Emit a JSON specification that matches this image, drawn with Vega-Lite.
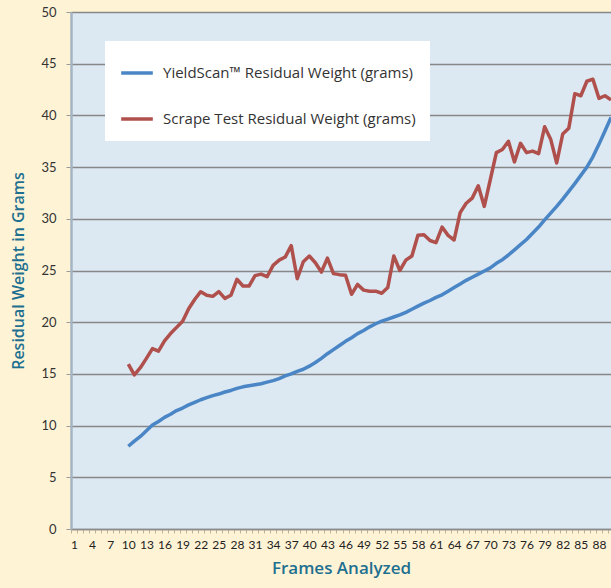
{
  "$schema": "https://vega.github.io/schema/vega-lite/v6.json",
  "width": 540,
  "height": 517,
  "autosize": {"type": "none"},
  "padding": {"left": 71, "top": 12, "right": 0, "bottom": 59},
  "background": "#FFF3D6",
  "view": {"fill": "#DCE9F3", "stroke": null},
  "data": {"values": [
    {"frame":10,"series":"Y","value":8.0},{"frame":11,"series":"Y","value":8.5},{"frame":12,"series":"Y","value":8.95},{"frame":13,"series":"Y","value":9.5},{"frame":14,"series":"Y","value":10.05},{"frame":15,"series":"Y","value":10.4},{"frame":16,"series":"Y","value":10.8},{"frame":17,"series":"Y","value":11.1},{"frame":18,"series":"Y","value":11.45},{"frame":19,"series":"Y","value":11.7},
    {"frame":20,"series":"Y","value":12.0},{"frame":21,"series":"Y","value":12.25},{"frame":22,"series":"Y","value":12.5},{"frame":23,"series":"Y","value":12.7},{"frame":24,"series":"Y","value":12.9},{"frame":25,"series":"Y","value":13.05},{"frame":26,"series":"Y","value":13.25},{"frame":27,"series":"Y","value":13.4},{"frame":28,"series":"Y","value":13.6},{"frame":29,"series":"Y","value":13.75},
    {"frame":30,"series":"Y","value":13.85},{"frame":31,"series":"Y","value":13.95},{"frame":32,"series":"Y","value":14.05},{"frame":33,"series":"Y","value":14.2},{"frame":34,"series":"Y","value":14.35},{"frame":35,"series":"Y","value":14.55},{"frame":36,"series":"Y","value":14.8},{"frame":37,"series":"Y","value":15.0},{"frame":38,"series":"Y","value":15.25},{"frame":39,"series":"Y","value":15.45},
    {"frame":40,"series":"Y","value":15.75},{"frame":41,"series":"Y","value":16.1},{"frame":42,"series":"Y","value":16.5},{"frame":43,"series":"Y","value":16.95},{"frame":44,"series":"Y","value":17.35},{"frame":45,"series":"Y","value":17.75},{"frame":46,"series":"Y","value":18.15},{"frame":47,"series":"Y","value":18.5},{"frame":48,"series":"Y","value":18.9},{"frame":49,"series":"Y","value":19.2},
    {"frame":50,"series":"Y","value":19.55},{"frame":51,"series":"Y","value":19.85},{"frame":52,"series":"Y","value":20.1},{"frame":53,"series":"Y","value":20.3},{"frame":54,"series":"Y","value":20.5},{"frame":55,"series":"Y","value":20.7},{"frame":56,"series":"Y","value":20.95},{"frame":57,"series":"Y","value":21.25},{"frame":58,"series":"Y","value":21.55},{"frame":59,"series":"Y","value":21.85},
    {"frame":60,"series":"Y","value":22.1},{"frame":61,"series":"Y","value":22.4},{"frame":62,"series":"Y","value":22.65},{"frame":63,"series":"Y","value":23.0},{"frame":64,"series":"Y","value":23.35},{"frame":65,"series":"Y","value":23.7},{"frame":66,"series":"Y","value":24.05},{"frame":67,"series":"Y","value":24.35},{"frame":68,"series":"Y","value":24.65},{"frame":69,"series":"Y","value":24.95},
    {"frame":70,"series":"Y","value":25.25},{"frame":71,"series":"Y","value":25.7},{"frame":72,"series":"Y","value":26.05},{"frame":73,"series":"Y","value":26.5},{"frame":74,"series":"Y","value":27.0},{"frame":75,"series":"Y","value":27.5},{"frame":76,"series":"Y","value":28.0},{"frame":77,"series":"Y","value":28.6},{"frame":78,"series":"Y","value":29.2},{"frame":79,"series":"Y","value":29.9},
    {"frame":80,"series":"Y","value":30.55},{"frame":81,"series":"Y","value":31.2},{"frame":82,"series":"Y","value":31.9},{"frame":83,"series":"Y","value":32.65},{"frame":84,"series":"Y","value":33.4},{"frame":85,"series":"Y","value":34.2},{"frame":86,"series":"Y","value":35.0},{"frame":87,"series":"Y","value":36.0},{"frame":88,"series":"Y","value":37.2},{"frame":89,"series":"Y","value":38.5},{"frame":90,"series":"Y","value":39.8},
    {"frame":10,"series":"S","value":15.95},{"frame":11,"series":"S","value":14.9},{"frame":12,"series":"S","value":15.6},{"frame":13,"series":"S","value":16.5},{"frame":14,"series":"S","value":17.45},{"frame":15,"series":"S","value":17.2},{"frame":16,"series":"S","value":18.2},{"frame":17,"series":"S","value":18.9},{"frame":18,"series":"S","value":19.5},{"frame":19,"series":"S","value":20.1},
    {"frame":20,"series":"S","value":21.3},{"frame":21,"series":"S","value":22.2},{"frame":22,"series":"S","value":22.95},{"frame":23,"series":"S","value":22.6},{"frame":24,"series":"S","value":22.5},{"frame":25,"series":"S","value":22.95},{"frame":26,"series":"S","value":22.3},{"frame":27,"series":"S","value":22.6},{"frame":28,"series":"S","value":24.15},{"frame":29,"series":"S","value":23.5},
    {"frame":30,"series":"S","value":23.5},{"frame":31,"series":"S","value":24.5},{"frame":32,"series":"S","value":24.65},{"frame":33,"series":"S","value":24.4},{"frame":34,"series":"S","value":25.5},{"frame":35,"series":"S","value":26.0},{"frame":36,"series":"S","value":26.3},{"frame":37,"series":"S","value":27.4},{"frame":38,"series":"S","value":24.2},{"frame":39,"series":"S","value":25.85},
    {"frame":40,"series":"S","value":26.4},{"frame":41,"series":"S","value":25.75},{"frame":42,"series":"S","value":24.85},{"frame":43,"series":"S","value":26.2},{"frame":44,"series":"S","value":24.7},{"frame":45,"series":"S","value":24.6},{"frame":46,"series":"S","value":24.55},{"frame":47,"series":"S","value":22.7},{"frame":48,"series":"S","value":23.65},{"frame":49,"series":"S","value":23.1},
    {"frame":50,"series":"S","value":23.0},{"frame":51,"series":"S","value":23.0},{"frame":52,"series":"S","value":22.8},{"frame":53,"series":"S","value":23.35},{"frame":54,"series":"S","value":26.4},{"frame":55,"series":"S","value":25.0},{"frame":56,"series":"S","value":26.0},{"frame":57,"series":"S","value":26.4},{"frame":58,"series":"S","value":28.4},{"frame":59,"series":"S","value":28.45},
    {"frame":60,"series":"S","value":27.9},{"frame":61,"series":"S","value":27.7},{"frame":62,"series":"S","value":29.2},{"frame":63,"series":"S","value":28.4},{"frame":64,"series":"S","value":27.95},{"frame":65,"series":"S","value":30.6},{"frame":66,"series":"S","value":31.5},{"frame":67,"series":"S","value":32.0},{"frame":68,"series":"S","value":33.2},{"frame":69,"series":"S","value":31.2},
    {"frame":70,"series":"S","value":33.8},{"frame":71,"series":"S","value":36.4},{"frame":72,"series":"S","value":36.7},{"frame":73,"series":"S","value":37.5},{"frame":74,"series":"S","value":35.5},{"frame":75,"series":"S","value":37.3},{"frame":76,"series":"S","value":36.4},{"frame":77,"series":"S","value":36.55},{"frame":78,"series":"S","value":36.3},{"frame":79,"series":"S","value":38.9},
    {"frame":80,"series":"S","value":37.7},{"frame":81,"series":"S","value":35.4},{"frame":82,"series":"S","value":38.2},{"frame":83,"series":"S","value":38.75},{"frame":84,"series":"S","value":42.1},{"frame":85,"series":"S","value":41.9},{"frame":86,"series":"S","value":43.3},{"frame":87,"series":"S","value":43.5},{"frame":88,"series":"S","value":41.65},{"frame":89,"series":"S","value":41.9},{"frame":90,"series":"S","value":41.5}
  ]},
  "mark": {"type": "line", "strokeWidth": 3.5, "clip": true, "strokeJoin": "round"},
  "encoding": {
    "x": {
      "field": "frame", "type": "quantitative",
      "scale": {"domain": [0.5, 90], "nice": false, "zero": false},
      "axis": {
        "title": "Frames Analyzed",
        "values": [0.5,1.5,2.5,3.5,4.5,5.5,6.5,7.5,8.5,9.5,10.5,11.5,12.5,13.5,14.5,15.5,16.5,17.5,18.5,19.5,20.5,21.5,22.5,23.5,24.5,25.5,26.5,27.5,28.5,29.5,30.5,31.5,32.5,33.5,34.5,35.5,36.5,37.5,38.5,39.5,40.5,41.5,42.5,43.5,44.5,45.5,46.5,47.5,48.5,49.5,50.5,51.5,52.5,53.5,54.5,55.5,56.5,57.5,58.5,59.5,60.5,61.5,62.5,63.5,64.5,65.5,66.5,67.5,68.5,69.5,70.5,71.5,72.5,73.5,74.5,75.5,76.5,77.5,78.5,79.5,80.5,81.5,82.5,83.5,84.5,85.5,86.5,87.5,88.5,89.5],
        "labelExpr": "((datum.value - 0.5) % 3 == 0) ? '' + (datum.value + 0.5) : ''",
        "labelOffset": 3,
        "labelOverlap": false,
        "labelFlush": false,
        "labelBound": false,
        "labelFont": "Lato",
        "labelFontSize": 12,
        "labelColor": "#222222",
        "labelPadding": 6,
        "grid": false,
        "domainColor": "#8C8C8C",
        "domainWidth": 1.5,
        "tickColor": "#BDB39B",
        "tickSize": 4,
        "tickWidth": 1,
        "titleFont": "Open Sans",
        "titleFontSize": 17,
        "titleFontWeight": 600,
        "titleColor": "#1D7090",
        "titlePadding": 10
      }
    },
    "y": {
      "field": "value", "type": "quantitative",
      "scale": {"domain": [0, 50], "nice": false},
      "axis": {
        "title": "Residual Weight in Grams",
        "values": [0,5,10,15,20,25,30,35,40,45,50],
        "grid": true,
        "gridColor": "#878787",
        "gridWidth": 1.5,
        "domainColor": "#A4B4C2",
        "domainWidth": 2.5,
        "tickColor": "#9A9A9A",
        "tickSize": 5,
        "labelFont": "Lato",
        "labelFontSize": 13,
        "labelColor": "#333333",
        "labelPadding": 10,
        "titleFont": "Open Sans",
        "titleFontSize": 16,
        "titleFontWeight": 600,
        "titleColor": "#1D7090",
        "titlePadding": 14
      }
    },
    "color": {
      "field": "series", "type": "nominal",
      "scale": {"domain": ["Y", "S"], "range": ["#4A86C5", "#B0504C"]},
      "legend": {
        "orient": "none",
        "legendX": 34,
        "legendY": 29,
        "title": null,
        "fillColor": "#FFFFFF",
        "padding": 14,
        "symbolType": "stroke",
        "symbolSize": 1000,
        "symbolStrokeWidth": 3.5,
        "labelFont": "Open Sans",
        "labelFontSize": 15,
        "labelColor": "#333333",
        "labelLimit": 400,
        "labelOffset": 8,
        "rowPadding": 20,
        "labelExpr": "datum.value == 'Y' ? 'YieldScan™ Residual Weight (grams)' : 'Scrape Test Residual Weight (grams)'"
      }
    }
  }
}
